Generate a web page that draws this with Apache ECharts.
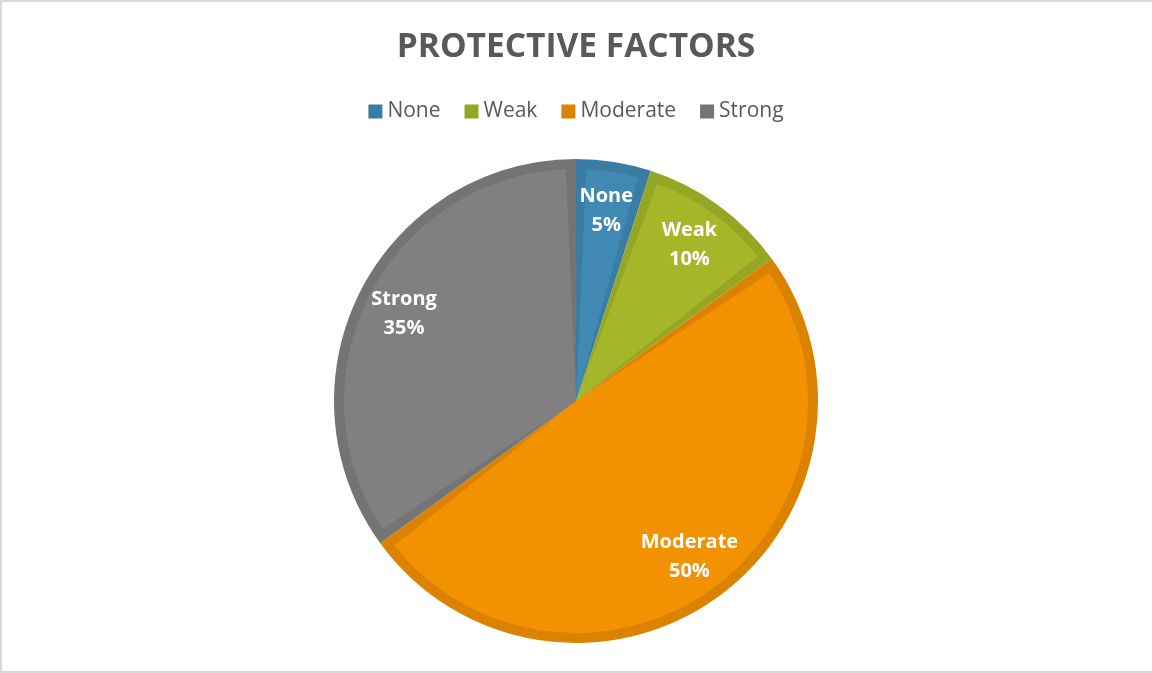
<!DOCTYPE html>
<html>
<head>
<meta charset="utf-8">
<title>Protective Factors</title>
<script src="https://cdn.jsdelivr.net/npm/echarts@6/dist/echarts.min.js"></script>
<style>
  html, body { margin: 0; padding: 0; background: #ffffff; overflow: hidden; }
  #wrap { position: relative; width: 1152px; height: 673px; }
  #chart { position: absolute; left: 0; top: 0; width: 1152px; height: 673px; }
  #frame {
    position: absolute; left: 0; top: 0; width: 1160px; height: 673px;
    border: 2px solid #d9d9d9; border-right: none; box-sizing: border-box;
    pointer-events: none;
  }
</style>
</head>
<body>
<div id="wrap">
  <div id="chart"></div>
  <div id="frame"></div>
</div>
<script>
// Share of respondents by level of protective factors
const categories = ['None', 'Weak', 'Moderate', 'Strong'];
const shares = [5, 10, 50, 35];

// Fill and edge tones for each slice
const fillColors = ['#3f89b3', '#a5b628', '#f39200', '#808080'];
const edgeColors = ['#3a7ca3', '#95a625', '#db8300', '#747474'];

const center = [576, 401];
const outerRadius = 242;
const edgeWidth = 10;

function sliceData(colors) {
  return categories.map((name, i) => ({
    name: name,
    value: shares[i],
    itemStyle: { color: colors[i] }
  }));
}

const chart = echarts.init(document.getElementById('chart'), null, { renderer: 'canvas' });

chart.setOption({
  animation: false,
  backgroundColor: '#ffffff',
  title: {
    text: 'PROTECTIVE FACTORS',
    left: 'center',
    top: 25,
    textStyle: {
      fontFamily: 'Open Sans',
      fontWeight: 'bold',
      fontSize: 33.5,
      color: '#595959'
    }
  },
  legend: {
    data: categories,
    left: 'center',
    top: 96,
    icon: 'rect',
    itemWidth: 14,
    itemHeight: 14,
    itemGap: 24,
    selectedMode: false,
    textStyle: {
      fontFamily: 'Open Sans',
      fontSize: 21,
      color: '#595959'
    }
  },
  series: [
    {
      // edge tone: full disc
      type: 'pie',
      center: center,
      radius: [0, outerRadius],
      startAngle: 90,
      clockwise: true,
      silent: true,
      label: { show: false },
      labelLine: { show: false },
      emphasis: { disabled: true },
      data: sliceData(edgeColors)
    },
    {
      // main fill, inset from the slice edges
      type: 'pie',
      center: center,
      radius: [0, outerRadius - edgeWidth],
      startAngle: 90,
      clockwise: true,
      padAngle: 5,
      silent: true,
      label: { show: false },
      labelLine: { show: false },
      emphasis: { disabled: true },
      data: sliceData(fillColors)
    },
    {
      // category and percentage labels
      type: 'pie',
      center: center,
      radius: [148, 232],
      startAngle: 90,
      clockwise: true,
      silent: true,
      itemStyle: { color: 'rgba(0,0,0,0)' },
      labelLine: { show: false },
      emphasis: { disabled: true },
      label: {
        show: true,
        position: 'inside',
        formatter: p => p.name + '\n' + p.value + '%',
        fontFamily: 'Open Sans',
        fontWeight: 'bold',
        fontSize: 20,
        lineHeight: 29,
        color: '#ffffff',
        align: 'center'
      },
      data: categories.map((name, i) => ({ name: name, value: shares[i] }))
    }
  ]
});
</script>
</body>
</html>
